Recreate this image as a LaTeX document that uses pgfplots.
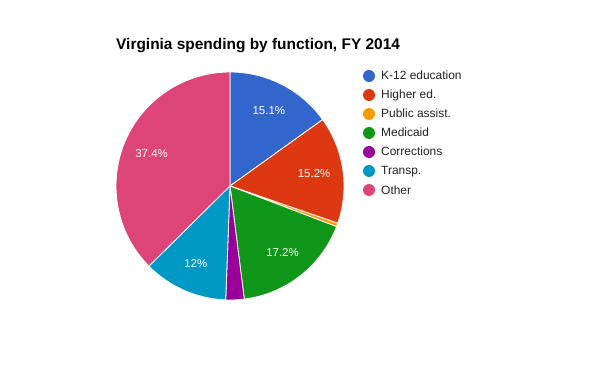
\documentclass[border=0pt]{standalone}
\usepackage{pgfplots}
\usepackage{pgfplotstable}
\pgfplotsset{compat=1.18}
\usetikzlibrary{calc}
\usepackage{fontspec}
\setmainfont{Liberation Sans}
\definecolor{c0}{HTML}{3366CC}
\definecolor{c1}{HTML}{DC3912}
\definecolor{c2}{HTML}{FF9900}
\definecolor{c3}{HTML}{109618}
\definecolor{c4}{HTML}{990099}
\definecolor{c5}{HTML}{0099C6}
\definecolor{c6}{HTML}{DD4477}
\definecolor{legtext}{HTML}{222222}

\pgfplotstableread[col sep=comma]{
label,value
K-12 education,15.1
Higher ed.,15.2
Public assist.,0.5
Medicaid,17.2
Corrections,2.6
Transp.,12
Other,37.4
}\piedata

% cumulative angles (clockwise from the top)
\def\cum{0}
\foreach \i in {0,...,6}{%
  \pgfplotstablegetelem{\i}{value}\of\piedata
  \let\v\pgfplotsretval
  \pgfmathsetmacro\a{90-\cum*3.6}%
  \pgfmathsetmacro\b{90-(\cum+\v)*3.6}%
  \pgfmathsetmacro\m{90-(\cum+\v/2)*3.6}%
  \expandafter\xdef\csname sa\i\endcsname{\a}%
  \expandafter\xdef\csname ea\i\endcsname{\b}%
  \expandafter\xdef\csname ma\i\endcsname{\m}%
  \expandafter\xdef\csname val\i\endcsname{\v}%
  \pgfplotstablegetelem{\i}{label}\of\piedata
  \expandafter\xdef\csname lab\i\endcsname{\pgfplotsretval}%
  \pgfmathsetmacro\newcum{\cum+\v}%
  \global\let\cum\newcum
}

\begin{document}
\begin{tikzpicture}
\begin{axis}[
  scale only axis, width=600bp, height=371bp,
  xmin=0, xmax=600, ymin=0, ymax=371,
  hide axis, clip=false,
  /pgf/number format/assume math mode=true,
]
\path (axis cs:0,0) rectangle (axis cs:600,371);
\pgfplotsinvokeforeach{0,...,6}{
  \fill[c#1, draw=white, line width=0.8bp, line join=round]
    (axis cs:230,185) -- ++(\csname sa#1\endcsname:114bp)
    arc[start angle=\csname sa#1\endcsname, end angle=\csname ea#1\endcsname, radius=114bp] -- cycle;
}
\pgfplotsinvokeforeach{0,...,6}{
  \pgfmathparse{\csname val#1\endcsname>=5}
  \ifdim\pgfmathresult pt>0.5pt
    \node[text=white, font=\fontsize{11.5}{13}\selectfont, inner sep=0pt]
      at ($(axis cs:230,185)+(\csname ma#1\endcsname:85bp)$)
      {\pgfmathprintnumber[assume math mode=true]{\csname val#1\endcsname}\%};
  \fi
  \fill[c#1] (axis cs:369,{295-19*#1}) circle[radius=6bp];
  \node[anchor=base west, text=legtext, font=\fontsize{12}{14}\selectfont, inner sep=0pt]
    at (axis cs:381,{291-19*#1}) {\csname lab#1\endcsname};
}
\node[anchor=base west, font=\bfseries\fontsize{15.5}{18}\selectfont, inner sep=0pt]
  at (axis cs:116,321) {Virginia spending by function, FY 2014};
\end{axis}
\end{tikzpicture}
\end{document}
